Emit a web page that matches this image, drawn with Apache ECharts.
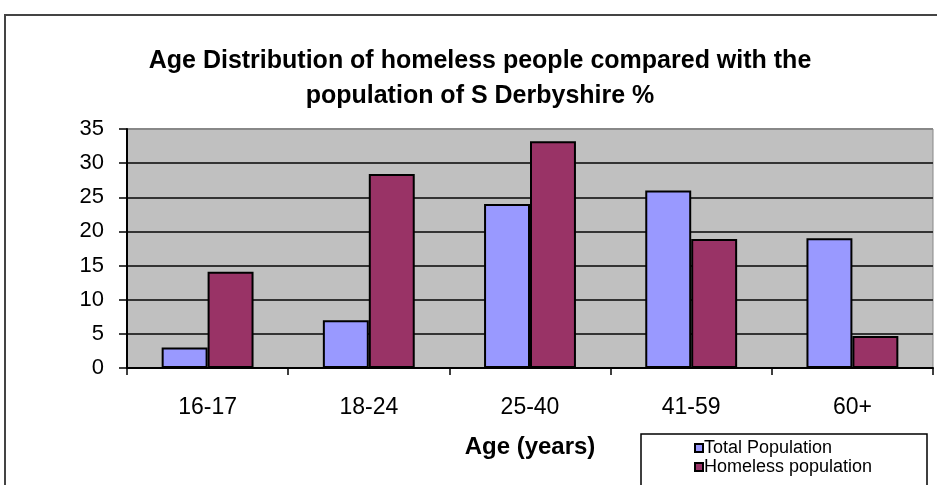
<!DOCTYPE html>
<html>
<head>
<meta charset="utf-8">
<script src="https://cdn.jsdelivr.net/npm/echarts@6/dist/echarts.min.js"></script>
<style>
html,body{margin:0;padding:0;background:#fff;}
#c{width:937px;height:485px;}
</style>
</head>
<body>
<div id="c"></div>
<script>
var categories = ['16-17', '18-24', '25-40', '41-59', '60+'];
var totalPopulation = [3, 7, 24, 26, 19];
var homelessPopulation = [14.1, 28.4, 33.2, 18.9, 4.7];
var seriesNames = ['Total Population', 'Homeless population'];
var titleText = 'Age Distribution of homeless people compared with the\npopulation of S Derbyshire %';
var xAxisTitle = 'Age (years)';

var chart = echarts.init(document.getElementById('c'));
var font = '"Liberation Sans", Arial, sans-serif';
chart.setOption({
  animation: false,
  backgroundColor: '#fff',
  graphic: [
    { type: 'rect', z: 0, shape: { x: 5, y: 15, width: 1000, height: 1000 },
      style: { fill: 'none', stroke: '#444', lineWidth: 2 } },
    { type: 'rect', z: 0, shape: { x: 641, y: 434, width: 286, height: 100 },
      style: { fill: '#fff', stroke: '#000', lineWidth: 1.5 } }
  ],
  title: {
    text: titleText,
    left: 475, top: 39, textAlign: 'center',
    textStyle: { fontFamily: font, fontSize: 25, fontWeight: 'bold', color: '#000', lineHeight: 35 }
  },
  legend: {
    orient: 'vertical',
    left: 689, top: 434,
    itemWidth: 8, itemHeight: 8, itemGap: 1,
    icon: 'rect',
    textStyle: { fontFamily: font, fontSize: 18, color: '#000', padding: [0, 0, 0, -4] },
    data: seriesNames,
    z: 5
  },
  grid: {
    left: 127, top: 129, right: 4, bottom: 117,
    show: true, backgroundColor: '#C0C0C0', borderColor: '#888', borderWidth: 1
  },
  xAxis: {
    type: 'category',
    data: categories,
    name: xAxisTitle,
    nameLocation: 'middle',
    nameGap: 67,
    nameTextStyle: { fontFamily: font, fontSize: 24, fontWeight: 'bold', color: '#000' },
    axisLine: { lineStyle: { color: '#000', width: 2 } },
    axisTick: { show: true, length: 7, lineStyle: { color: '#000', width: 1.5 } },
    axisLabel: { fontFamily: font, fontSize: 23, color: '#000', margin: 28 }
  },
  yAxis: {
    type: 'value',
    min: 0, max: 35, interval: 5,
    axisLine: { show: true, lineStyle: { color: '#000', width: 2 } },
    axisTick: { show: true, length: 8, lineStyle: { color: '#000', width: 1.5 } },
    axisLabel: { fontFamily: font, fontSize: 22, color: '#000', margin: 23 },
    splitLine: { show: true, lineStyle: { color: ['#333', '#333', '#333', '#333', '#333', '#333', '#333', '#888'], width: 2 } }
  },
  series: [
    {
      name: seriesNames[0], type: 'bar', data: totalPopulation,
      barGap: '0%', barCategoryGap: '43%',
      itemStyle: { color: '#9999FF', borderColor: '#000', borderWidth: 2 }
    },
    {
      name: seriesNames[1], type: 'bar', data: homelessPopulation,
      itemStyle: { color: '#993366', borderColor: '#000', borderWidth: 2 }
    }
  ]
});
</script>
</body>
</html>
